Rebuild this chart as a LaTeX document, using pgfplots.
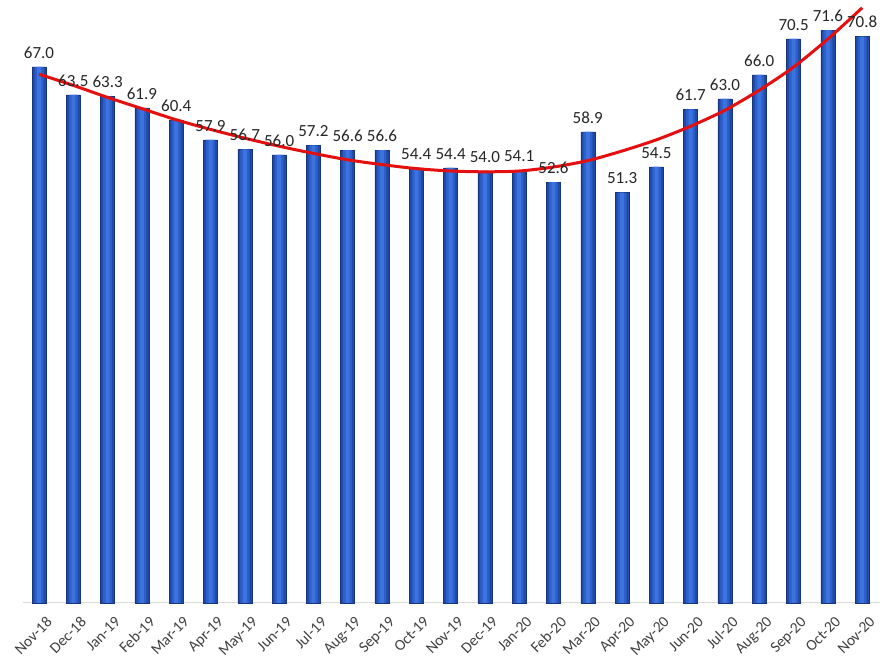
\documentclass[border=0pt]{standalone}
\usepackage{pgfplots}
\usepackage{pgfplotstable}
\pgfplotsset{compat=1.18}
\usepackage{fontspec}
\setmainfont{Carlito}
\definecolor{barEdge}{HTML}{17357F}
\definecolor{barDark}{HTML}{1F4AA6}
\definecolor{barMid}{HTML}{2D5FCA}
\definecolor{barLight}{HTML}{3C73DF}
\definecolor{trend}{HTML}{E41010}
\pgfplotstableread{
x y
0 67.0
1 63.5
2 63.3
3 61.9
4 60.4
5 57.9
6 56.7
7 56.0
8 57.2
9 56.6
10 56.6
11 54.4
12 54.4
13 54.0
14 54.1
15 52.6
16 58.9
17 51.3
18 54.5
19 61.7
20 63.0
21 66.0
22 70.5
23 71.6
24 70.8
}\bardata
\begin{document}
\begin{tikzpicture}
\useasboundingbox (0,0) rectangle (889pt,666pt);
\begin{axis}[
  at={(23pt,63pt)}, anchor=south west,
  scale only axis, width=857pt, height=600pt,
  xmin=-0.467, xmax=24.52, ymin=0, ymax=75,
  axis x line=bottom, axis y line=none,
  x axis line style={draw=black!15, line width=1pt, -},
  xtick={0,...,24},
  xticklabels={Nov-18,Dec-18,Jan-19,Feb-19,Mar-19,Apr-19,May-19,Jun-19,Jul-19,Aug-19,Sep-19,Oct-19,Nov-19,Dec-19,Jan-20,Feb-20,Mar-20,Apr-20,May-20,Jun-20,Jul-20,Aug-20,Sep-20,Oct-20,Nov-20},
  major tick length=0pt,
  x tick label style={rotate=45, anchor=north east, font=\fontsize{15.5}{16}\selectfont, text=black!75, xshift=-1pt, yshift=-10pt},
  /pgf/number format/assume math mode=true,
  clip=false,
]
\addplot[ybar, bar width=14pt, draw=barEdge, line width=0.5pt, fill=barDark] table[x=x,y=y] {\bardata};
\addplot[ybar, bar width=9pt, draw=none, fill=barMid] table[x=x,y=y] {\bardata};
\addplot[ybar, bar width=4pt, draw=none, fill=barLight,
  point meta=y,
  nodes near coords={\pgfmathprintnumber[fixed,fixed zerofill,precision=1]{\pgfplotspointmeta}},
  every node near coord/.append style={font=\fontsize{17}{18}\selectfont, text=black!85, anchor=south, yshift=5pt},
] table[x=x,y=y] {\bardata};
\addplot[trend, line width=3pt, smooth, no marks] coordinates {
(0,66.1) (1,64.7) (2,63.2) (3,61.8) (4,60.4) (5,59.2) (6,58.1) (7,57.1) (8,56.2) (9,55.4)
(10,54.8) (11,54.3) (12,54.0) (13,53.9) (14,54.0) (15,54.5) (16,55.3) (17,56.5) (18,57.9)
(19,59.6) (20,61.6) (21,64.1) (22,67.0) (23,70.5) (24,74.4)
};
\end{axis}
\end{tikzpicture}
\end{document}
